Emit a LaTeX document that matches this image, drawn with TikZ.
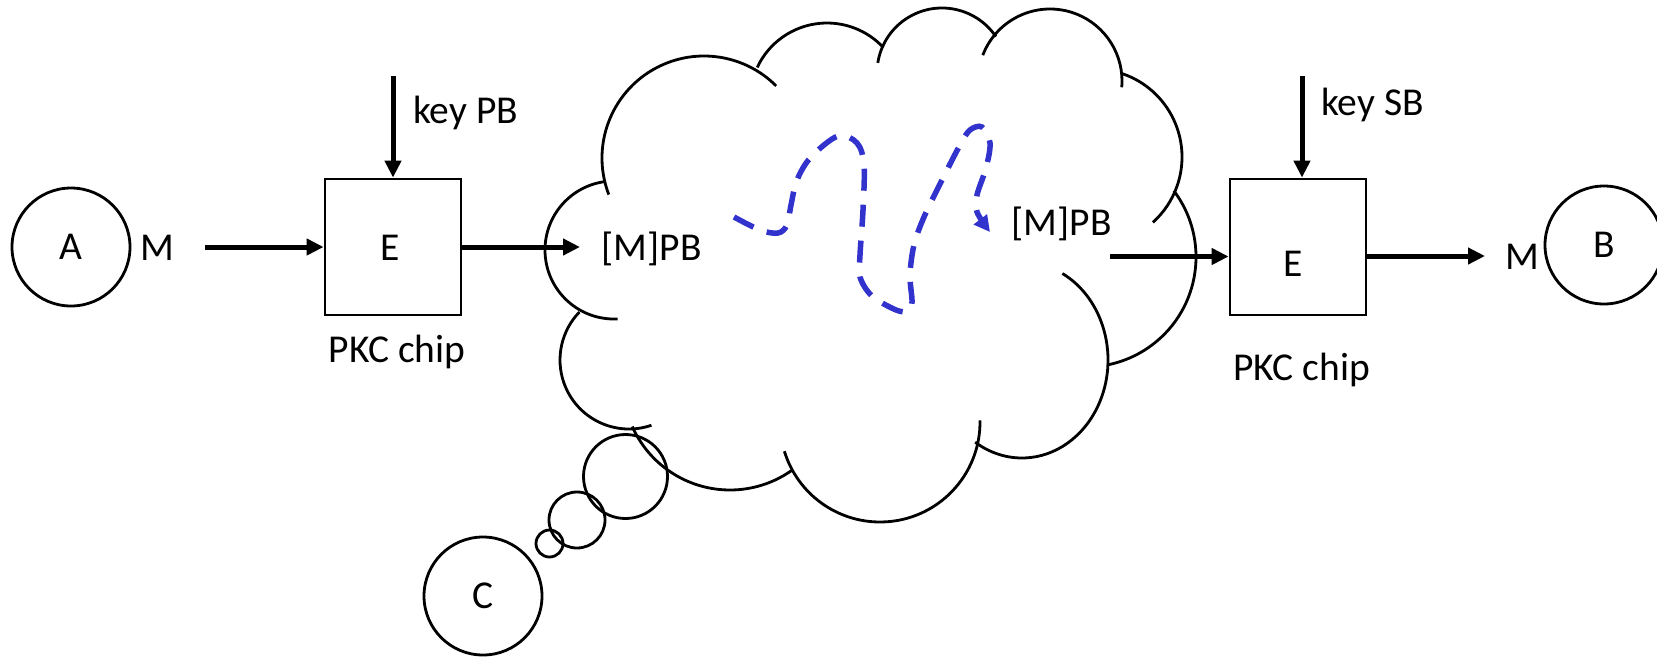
\documentclass[tikz,border=0pt]{standalone}
\usepackage{fontspec}
\setmainfont{Carlito}
\usetikzlibrary{arrows.meta}
\definecolor{routeblue}{RGB}{50,50,205}
\begin{document}
\begin{tikzpicture}[x=1pt,y=-1pt,
  outline/.style={line width=2.8pt},
  txt/.style={font=\fontsize{39.5pt}{47pt}\selectfont},
  lbl/.style={txt, inner sep=0pt, anchor=base},
  party/.style={draw, circle, outline, txt, minimum size=118pt, inner sep=0pt},
  chip/.style={draw, rectangle, outline, minimum width=136pt, minimum height=136pt, inner sep=0pt},
  arr/.style={line width=5pt, -{Triangle[length=17pt,width=16pt]}},
  route/.style={draw=routeblue, line width=5.5pt, dash pattern=on 22pt off 14pt,
                -{Triangle[length=16pt,width=16pt]}}]
\clip (0,0) rectangle (1657,657);

% communicating parties
\node[party] (A) at (71,247) {A};
\node[party] (B) at (1604,245) {B};
\node[party] (C) at (483,596) {C};

% encryption chips
\node[chip] (chipL) at (393,247) {};
\node[chip] (chipR) at (1298,247) {};
\node[lbl] (eL) at (390,260) {E};
\node[lbl] (eR) at (1293,276.7) {E};
\node[lbl] (pkcL) at (397,362) {PKC chip};
\node[lbl] (pkcR) at (1301.6,380) {PKC chip};
\node[lbl, anchor=base west] (keyPB) at (413,123) {key PB};
\node[lbl, anchor=base west] (keySB) at (1321,115) {key SB};

% messages
\node[lbl] (mL) at (157,260.7) {M};
\node[lbl] (mR) at (1522,269) {M};
\node[lbl] (cL) at (651.5,260) {[M]PB};
\node[lbl] (cR) at (1061.5,235) {[M]PB};

% free ends of the connectors
\coordinate (inL) at (205,247);
\coordinate (cloudIn) at (580,247);
\coordinate (cloudOut) at (1110,256.5);
\coordinate (outR) at (1485,256);
\coordinate (keyL) at (393,76);
\coordinate (keyR) at (1302,76);

\draw[arr] (inL) -- (chipL.west);
\draw[arr] (chipL.east) -- (cloudIn);
\draw[arr] (keyL) -- (keyL |- chipL.north);
\draw[arr] (keyR) -- (keyR |- chipR.north);
\draw[arr] (cloudOut) -- (cloudOut -| chipR.west);
\draw[arr] (outR -| chipR.east) -- (outR);

% the network cloud, one arc per puff
\foreach \cx/\cy/\rx/\ry/\a/\b in {
   614/250/69/69/-87/-262,
   704/158/102/102/-159/-315,
   827/100/77/77/-205/-317,
   942/73/65/65/-189/-326,
   1050/81/72/72/-201/-365,
   1094/157/88/88/71/-48,
   1086/257/110/110/37/-79,
   1022/360/86/98/62/-123,
   880/422/100/100/1/-163,
   730/383/107/107/-156/-55,
   629/360/69/69/-71/-224}
  \draw[outline] (\cx,\cy) ++(\a:\rx pt and \ry pt)
     arc[start angle=\a, end angle=\b, x radius=\rx pt, y radius=\ry pt];

% thought bubbles towards C
\draw[outline] (625.5,476.5) circle[radius=42pt];
\draw[outline] (577,520) circle[radius=28pt];
\draw[outline] (549.5,543.5) circle[radius=13.5pt];

% route of the ciphertext through the network
\draw[route] plot[smooth, tension=0.55] coordinates {
  (734,217) (760,230) (778,233) (787,225) (791,205) (797,180) (811,157)
  (838,136) (857,143) (864,165) (863,210) (860,255) (860,277) (872,296)
  (896,310) (908,311) (912,302) (910,275) (914,245) (924,217) (942,180)
  (960,145) (970,130) (982,127) (990,143) (986,168) (977,195) (977,212)
  (990,232)};
\end{tikzpicture}
\end{document}
